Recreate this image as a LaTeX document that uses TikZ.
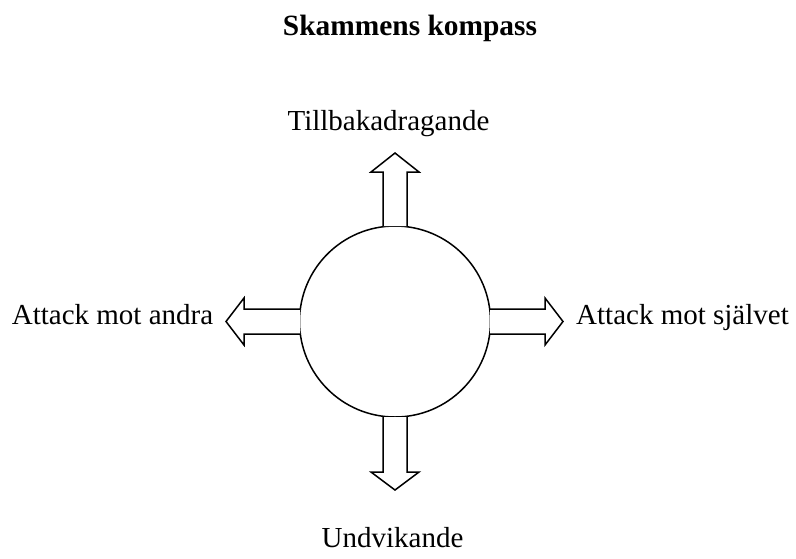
\documentclass[tikz,border=0pt]{standalone}
\usepackage{fontspec}
\setmainfont{Liberation Serif}
\begin{document}
\begin{tikzpicture}[x=1pt,y=-1pt,
  lbl/.style={anchor=base,inner sep=0pt,font=\fontsize{29}{35}\selectfont},
  ttl/.style={anchor=base,inner sep=0pt,font=\fontsize{29.4}{35}\selectfont\bfseries},
  blockarrow/.style={draw=black,line width=1.5pt,fill=white,line join=miter},
  ring/.style={draw=black,line width=1.5pt,circle,minimum size=191pt,inner sep=0pt}]
\useasboundingbox (0,0) rectangle (796,558);
\node[ttl] (title) at (410,35) {Skammens kompass};
\node[ring] (c) at (395,321.5) {};
% up
\draw[blockarrow] (383,226) -- (383,172) -- (371,172) -- (395,153) -- (419,172) -- (407,172) -- (407,226);
% down
\draw[blockarrow] (383,417) -- (383,472) -- (371,472) -- (395,490) -- (419,472) -- (407,472) -- (407,417);
% left
\draw[blockarrow] (300,309) -- (244,309) -- (244,298) -- (226,321.5) -- (244,345) -- (244,334) -- (300,334);
% right
\draw[blockarrow] (490,309) -- (545,309) -- (545,298) -- (563,321.5) -- (545,345) -- (545,334) -- (490,334);
\node[lbl] (up) at (388.5,130) {Tillbakadragande};
\node[lbl] (left) at (112.5,324) {Attack mot andra};
\node[lbl] (right) at (682.5,324) {Attack mot självet};
\node[lbl] (down) at (392.5,547) {Undvikande};
\end{tikzpicture}
\end{document}
